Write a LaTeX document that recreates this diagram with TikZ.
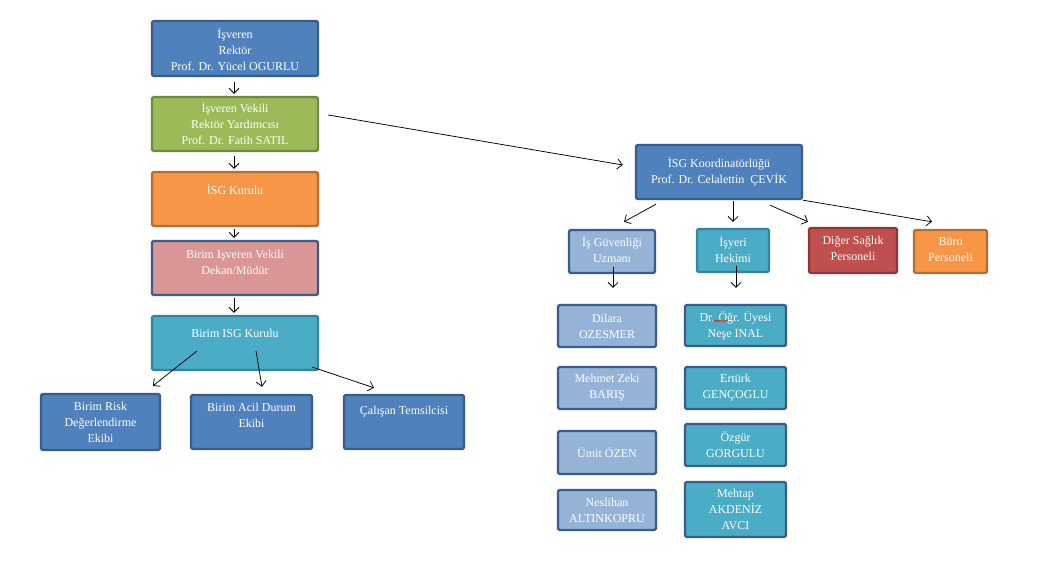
\documentclass[tikz,border=0pt]{standalone}
\usepackage{fontspec}
\setmainfont{Liberation Serif}
\usetikzlibrary{arrows.meta,calc,decorations.pathmorphing}
\definecolor{cblue}{HTML}{4F81BD}
\definecolor{dblue}{HTML}{385D8A}
\definecolor{cgreen}{HTML}{9BBB59}
\definecolor{dgreen}{HTML}{71893F}
\definecolor{corange}{HTML}{F79646}
\definecolor{dorange}{HTML}{B66D31}
\definecolor{cpink}{HTML}{D99694}
\definecolor{cteal}{HTML}{4BACC6}
\definecolor{dteal}{HTML}{31859C}
\definecolor{clblue}{HTML}{95B3D7}
\definecolor{cred}{HTML}{C0504D}
\definecolor{dred}{HTML}{8C3836}
\tikzset{
  box/.style={draw, line width=2.4pt, rounded corners=1.5pt, inner sep=0pt,
    text=white, align=center, font=\fontsize{12}{16}\selectfont},
  bluebox/.style={box, fill=cblue, draw=dblue},
  greenbox/.style={box, fill=cgreen, draw=dgreen},
  orangebox/.style={box, fill=corange, draw=dorange},
  pinkbox/.style={box, fill=cpink, draw=dblue},
  tealbox/.style={box, fill=cteal, draw=dteal},
  lbluebox/.style={box, fill=clblue, draw=dblue},
  redbox/.style={box, fill=cred, draw=dred},
  txt/.style={text=white, align=center, inner sep=0pt, font=\fontsize{12}{16}\selectfont},
  arr/.style={draw=black, line width=0.75pt, -{Straight Barb[length=5pt,width=10pt]}}
}
\begin{document}
\begin{tikzpicture}[x=1pt,y=-1pt]
\useasboundingbox (0,0) rectangle (1049,579);
\fill[white] (0,0) rectangle (1049,579);

% left column
\node[bluebox, minimum width=166pt, minimum height=55pt] (ivr) at (235,48.5) {};
\node[txt] (ivrt) at (235,49.5) {İşveren\\Rektör\\Prof. Dr. Yücel OGURLU};
\node[greenbox, minimum width=166pt, minimum height=54pt] (ivk) at (235,124) {};
\node[txt] (ivkt) at (235,123.5) {İşveren Vekili\\Rektör Yardımcısı\\Prof. Dr. Fatih SATIL};
\node[orangebox, minimum width=166pt, minimum height=54pt] (isgk) at (235,199) {};
\node[txt] (isgkt) at (235,190) {İSG Kurulu};
\node[pinkbox, minimum width=166pt, minimum height=54pt] (biv) at (235,268) {};
\node[txt] (bivt) at (235,262) {Birim Işveren Vekili\\Dekan/Müdür};
\node[tealbox, minimum width=166pt, minimum height=54pt] (bisg) at (235,343) {};
\node[txt] (bisgt) at (235,333) {Birim ISG Kurulu};

\node[bluebox, minimum width=119pt, minimum height=56pt] (brisk) at (100.5,422) {Birim Risk\\Değerlendirme\\Ekibi};
\node[bluebox, minimum width=121pt, minimum height=54pt] (bacil) at (251.5,422) {};
\node[txt] (bacilt) at (251.5,415) {Birim Acil Durum\\Ekibi};
\node[bluebox, minimum width=120pt, minimum height=54pt] (cal) at (404,422) {};
\node[txt] (calt) at (404,412) {Çalışan Temsilcisi};

% right part
\node[bluebox, minimum width=166pt, minimum height=54pt] (koord) at (719,172) {İSG Koordinatörlüğü\\Prof. Dr. Celalettin \ ÇEVİK};
\node[lbluebox, minimum width=86pt, minimum height=43pt] (igu) at (612,251.5) {};
\node[txt] (igut) at (612,250) {İş Güvenliği\\Uzmanı};
\node[tealbox, minimum width=72pt, minimum height=43pt] (ihek) at (733,250.5) {};
\node[txt] (ihekt) at (733,249.5) {İşyeri\\Hekimi};
\node[redbox, minimum width=88pt, minimum height=45pt] (diger) at (853,250.5) {};
\node[txt] (digert) at (853,248) {Diğer Sağlık\\Personeli};
\node[orangebox, minimum width=73pt, minimum height=43pt] (buro) at (950.5,251.5) {};
\node[txt] (burot) at (950.5,249.5) {Büro\\Personeli};

\node[lbluebox, minimum width=98pt, minimum height=42pt] (dil) at (607,326) {Dilara\\OZESMER};
\node[lbluebox, minimum width=98pt, minimum height=42pt] (meh) at (607,388) {Mehmet Zeki\\BARIŞ};
\node[lbluebox, minimum width=98pt, minimum height=43pt] (umi) at (607,452.5) {Ümit ÖZEN};
\node[lbluebox, minimum width=98pt, minimum height=40pt] (nes) at (607,510) {Neslihan\\ALTINKOPRU};

\node[tealbox, draw=dblue, minimum width=101pt, minimum height=41pt] (dr) at (735.5,325.5) {Dr. Öğr. Üyesi\\Neşe INAL};
\node[tealbox, draw=dblue, minimum width=101pt, minimum height=42pt] (ert) at (735.5,388) {Ertürk\\GENÇOGLU};
\node[tealbox, draw=dblue, minimum width=101pt, minimum height=42pt] (ozg) at (735.5,445) {Özgür\\GORGULU};
\node[tealbox, draw=dblue, minimum width=101pt, minimum height=55pt] (mht) at (735.5,509.5) {Mehtap\\AKDENİZ\\AVCI};

% spell-check underline
\draw[red, line width=0.6pt, decorate, decoration={snake, segment length=3pt, amplitude=0.8pt}]
  ($(dr.north)+(-22,17)$) -- ($(dr.north)+(-8,17)$);

% connectors
\draw[arr] ($(ivr.south)+(-1,5)$) -- ($(ivk.north)+(-1,-2)$);
\draw[arr] ($(ivk.south)+(-1,4)$) -- ($(isgk.north)+(-1,-2)$);
\draw[arr] ($(isgk.south)+(-1,2)$) -- ($(biv.north)+(-1,-2)$);
\draw[arr] ($(biv.south)+(-1,2)$) -- ($(bisg.north)+(-1,-2)$);
\draw[arr] ($(ivk.east)+(9,-9)$) -- ($(koord.west)+(-12,-7)$);

\draw[arr] ($(bisg.center)+(-38,8)$) -- ($(brisk.north)+(52.5,-7)$);
\draw[arr] ($(bisg.center)+(21,8)$) -- ($(bacil.north)+(10.5,-7)$);
\draw[arr] ($(bisg.center)+(77,24)$) -- ($(cal.north)+(-30,-6)$);

\draw[arr] ($(koord.south)+(-63,4)$) -- ($(igu.north)+(12,-7)$);
\draw[arr] ($(koord.south)+(14,1)$) -- ($(ihek.north)+(0,-6)$);
\draw[arr] ($(koord.south)+(51,5)$) -- ($(diger.north)+(-45,-5)$);
\draw[arr] ($(koord.south)+(84,0)$) -- ($(buro.north)+(-18.5,-7)$);

\draw[arr] ($(igu.south)+(1,-7)$) -- ($(dil.north)+(6,-16)$);
\draw[arr] ($(ihek.south)+(3,-7)$) -- ($(dr.north)+(0.5,-16)$);
\end{tikzpicture}
\end{document}
